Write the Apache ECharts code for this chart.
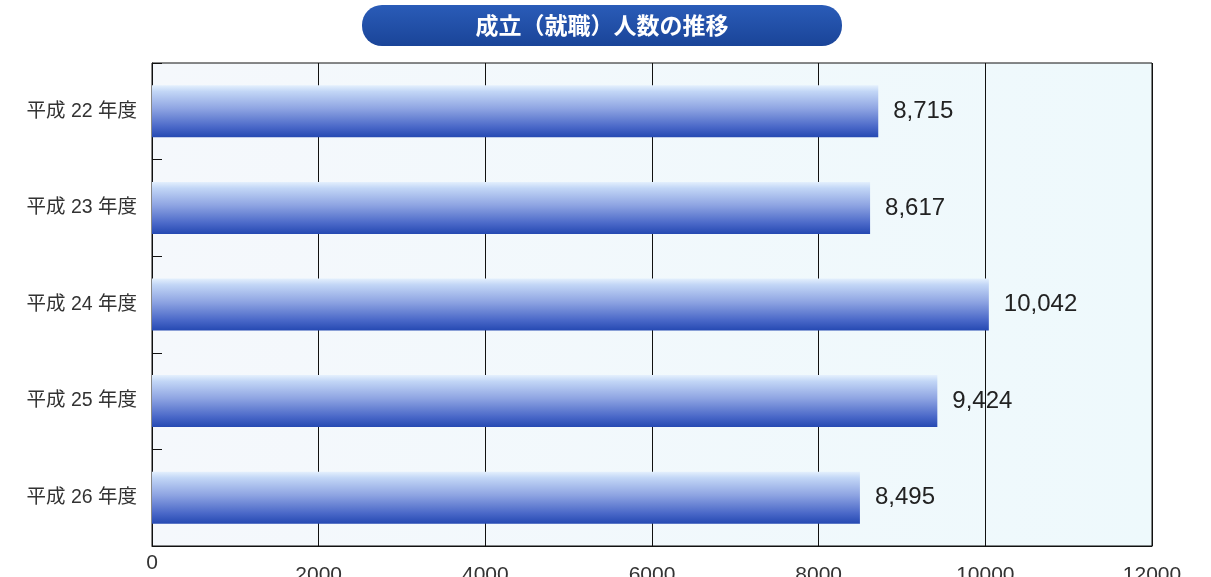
<!DOCTYPE html>
<html><head><meta charset="utf-8">
<script src="https://cdn.jsdelivr.net/npm/echarts@6/dist/echarts.min.js"></script>
<style>html,body{margin:0;padding:0;background:#fff}#c{width:1211px;height:577px}</style>
</head><body><div id="c"></div>
<script>
var titleText = '成立（就職）人数の推移';
var categories = ['平成 22 年度', '平成 23 年度', '平成 24 年度', '平成 25 年度', '平成 26 年度'];
var values = [8715, 8617, 10042, 9424, 8495];
var xMin = 0, xMax = 12000, xInterval = 2000;

var chart = echarts.init(document.getElementById('c'));
var latin = '"Liberation Sans", Arial, sans-serif';
var cjk = '"Liberation Sans", "Noto Sans CJK JP", sans-serif';
chart.setOption({
  animation: false,
  grid: {
    left: 152, right: 59, top: 63, bottom: 31, show: true, containLabel: false,
    outerBoundsMode: 'none',
    borderColor: '#111', borderWidth: 1,
    backgroundColor: new echarts.graphic.LinearGradient(0, 0, 1, 0, [
      {offset: 0, color: '#f5f8fc'}, {offset: 1, color: '#eef9fc'}
    ])
  },
  graphic: [{
    type: 'group', left: 362, top: 5,
    children: [{
      type: 'rect', shape: {x: 0, y: 0, width: 480, height: 41, r: 20},
      style: {fill: new echarts.graphic.LinearGradient(0, 0, 0, 1, [
        {offset: 0, color: '#2a5cb8'}, {offset: 1, color: '#1a4498'}
      ])}
    }, {
      type: 'text', x: 240, y: 20,
      style: {text: titleText, fill: '#fff', font: 'bold 23px "Noto Sans CJK JP", sans-serif',
        align: 'center', verticalAlign: 'middle'}
    }]
  }],
  xAxis: [{
    type: 'value', min: xMin, max: xMax, interval: xInterval,
    axisLine: {show: true, lineStyle: {color: '#111'}},
    axisTick: {show: false},
    splitLine: {show: true, lineStyle: {color: '#111', width: 1}},
    axisLabel: {showMinLabel: false, margin: 19, fontSize: 21, color: '#333', fontFamily: latin,
      formatter: function (v) { return String(v); }}
  }, {
    type: 'value', min: xMin, max: xMax, interval: xInterval, position: 'bottom',
    axisLine: {show: false}, axisTick: {show: false}, splitLine: {show: false},
    axisLabel: {margin: 7, fontSize: 21, color: '#333', fontFamily: latin,
      formatter: function (v) { return v === 0 ? '0' : ''; }}
  }],
  yAxis: {
    type: 'category', data: categories, inverse: true,
    axisLine: {show: true, lineStyle: {color: '#111'}},
    axisTick: {show: true, inside: true, length: 10, lineStyle: {color: '#111'}},
    axisLabel: {margin: 15, fontSize: 19.5, color: '#333', fontFamily: cjk}
  },
  series: [{
    type: 'bar', data: values, barWidth: 52,
    itemStyle: {color: new echarts.graphic.LinearGradient(0, 0, 0, 1, [
      {offset: 0, color: '#e4f0fd'},
      {offset: 0.12, color: '#c2d6f6'},
      {offset: 0.45, color: '#8ea4e2'},
      {offset: 0.8, color: '#4a68c8'},
      {offset: 1, color: '#2549b2'}
    ])},
    label: {show: true, position: 'right', distance: 15, fontSize: 24, color: '#222', fontFamily: latin,
      formatter: function (p) { return p.value.toLocaleString('en-US'); }}
  }]
});
</script></body></html>
